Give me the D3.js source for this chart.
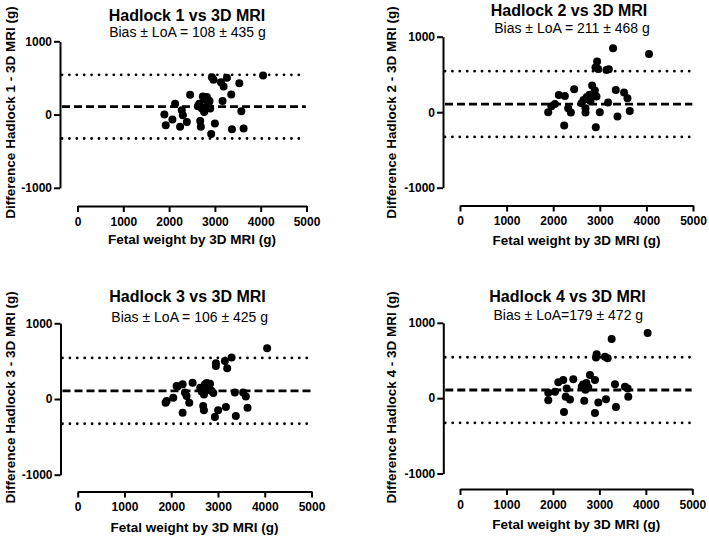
<!DOCTYPE html>
<html><head><meta charset="utf-8">
<script src="https://cdn.jsdelivr.net/npm/d3@7"></script>
<style>
body{margin:0;background:#fff}
svg{display:block}
text{font-family:Arial,"Liberation Sans",sans-serif;fill:#000}
</style>
</head><body>
<svg id="c" width="709" height="538"></svg>
<script>
// ---------- data ----------
const xTicks = [0, 1000, 2000, 3000, 4000, 5000];
const yTicks = [-1000, 0, 1000];
const titles = ["Hadlock 1 vs 3D MRI", "Hadlock 2 vs 3D MRI", "Hadlock 3 vs 3D MRI", "Hadlock 4 vs 3D MRI"];
const subtitles = ["Bias \u00b1 LoA = 108 \u00b1 435 g", "Bias \u00b1 LoA = 211 \u00b1 468 g", "Bias \u00b1 LoA = 106 \u00b1 425 g", "Bias \u00b1 LoA=179 \u00b1 472 g"];
const yTitles = ["Difference Hadlock 1 - 3D MRI (g)", "Difference Hadlock 2 - 3D MRI (g)", "Difference Hadlock 3 - 3D MRI (g)", "Difference Hadlock 4 - 3D MRI (g)"];
const xTitle = "Fetal weight by 3D MRI (g)";
// reference lines as drawn in each panel
const biasLine = [108, 108, 108, 108];
const upperLine = [543, 543, 543, 543];
const lowerLine = [-327, -327, -327, -327];

const h1X = [1897,1927,2072,2131,2240,2277,2300,2387,2459,2628,2657,2679,2693,2716,2737,2766,2773,2810,2825,2861,2882,2898,2919,2935,2970,3000,3132,3167,3190,3263,3357,3372,3533,3577,3627,4052];
const h1Y = [0,-145,-68,149,-168,58,-10,-100,271,113,149,-87,-168,81,248,35,203,103,239,149,185,81,-267,510,475,-122,442,185,384,502,275,-199,429,45,-190,533];

const h2X = [1893,1960,2036,2121,2236,2250,2321,2379,2450,2607,2650,2693,2693,2720,2750,2780,2800,2835,2893,2907,2914,2929,2942,2964,3000,3143,3178,3193,3285,3343,3379,3521,3593,3643,4056];
const h2Y = [0,80,110,229,-177,216,53,-5,305,119,160,53,-5,200,175,230,150,352,286,591,-199,207,670,573,0,560,127,570,848,295,-58,260,185,17,772];

const h3X = [1880,1902,2043,2115,2137,2244,2244,2293,2329,2385,2457,2620,2650,2684,2699,2700,2720,2760,2790,2830,2860,2900,2934,2955,2955,3004,3147,3169,3197,3291,3361,3382,3539,3596,3632,4051];
const h3Y = [-48,-26,18,172,164,194,-180,85,40,-48,216,150,100,-92,-149,60,190,210,120,200,110,80,-238,472,436,-149,502,-106,406,547,85,-225,85,32,-114,670];

const h4X = [1900,1900,2044,2116,2223,2238,2275,2296,2367,2439,2620,2650,2675,2700,2720,2760,2797,2905,2905,2927,2941,2977,3120,3142,3178,3264,3335,3357,3551,3608,3622,4039];
const h4Y = [71,-27,84,210,240,-183,17,129,-17,250,150,180,-36,110,200,140,307,240,-196,538,583,-57,551,-13,530,784,183,-116,151,129,17,864];

const seriesX = [h1X, h2X, h3X, h4X];
const seriesY = [h1Y, h2Y, h3Y, h4Y];

// ---------- layout ----------
const layout = [
  {yAx:60,  yTop:41.3,  yBot:187.8, xAy:206,   x0:77.5, x5:306.5, tX:187,   tY:21,    sX:187.5, sY:37,    ytX:15,    ytY:112.5, xtY:244},
  {yAx:443, yTop:36.7,  yBot:187.7, xAy:205.5, x0:460,  x5:693,   tX:569,   tY:15.7,  sX:572,   sY:33,    ytX:395.5, ytY:112.5, xtY:245},
  {yAx:60.5,yTop:323.3, yBot:474.7, xAy:491.5, x0:77.7, x5:311.5, tX:187.5, tY:302.3, sX:189.7, sY:321.5, ytX:15,    ytY:397.3, xtY:532},
  {yAx:443.3,yTop:322.8,yBot:473.5, xAy:489,   x0:460,  x5:692.3, tX:567.5, tY:301.7, sX:568.3, sY:319.7, ytX:395.5, ytY:397.3, xtY:529}
];

const svg = d3.select("#c");
svg.append("rect").attr("width",709).attr("height",538).attr("fill","#fff");

layout.forEach((L, i) => {
  const g = svg.append("g");
  const x = d3.scaleLinear().domain([0, 5000]).range([L.x0, L.x5]);
  const y = d3.scaleLinear().domain([-1000, 1000]).range([L.yBot, L.yTop]);

  // reference lines
  const lx1 = L.yAx + 2, lx2 = x(4985);
  [upperLine[i], lowerLine[i]].forEach(v => {
    g.append("line").attr("x1", lx1).attr("x2", lx2).attr("y1", y(v)).attr("y2", y(v))
      .attr("stroke","#000").attr("stroke-width",2.8).attr("stroke-linecap","round").attr("stroke-dasharray","0,7.4");
  });
  g.append("line").attr("x1", lx1).attr("x2", lx2).attr("y1", y(biasLine[i])).attr("y2", y(biasLine[i]))
    .attr("stroke","#000").attr("stroke-width",2.8).attr("stroke-dasharray","8,4");

  // points
  g.selectAll("circle.pt").data(seriesX[i].map((d, k) => [d, seriesY[i][k]])).enter()
    .append("circle").attr("class","pt")
    .attr("cx", d => x(d[0])).attr("cy", d => y(d[1])).attr("r", 4).attr("fill","#000");

  // y axis
  const ya = g.append("g").attr("transform", `translate(${L.yAx},0)`)
    .call(d3.axisLeft(y).tickValues(yTicks).tickSize(6).tickSizeOuter(0).tickPadding(2).tickFormat(d => String(d)));
  // x axis
  const xa = g.append("g").attr("transform", `translate(0,${L.xAy})`)
    .call(d3.axisBottom(x).tickValues(xTicks).tickSize(6).tickSizeOuter(0).tickPadding(5).tickFormat(d => String(d)));
  [ya, xa].forEach(a => {
    a.select(".domain").attr("stroke","#000").attr("stroke-width",2);
    a.selectAll(".tick line").attr("stroke","#000").attr("stroke-width",2);
    a.selectAll(".tick text").attr("font-size","12px").attr("font-weight","bold").attr("fill","#000")
      .style("font-family","Arial, 'Liberation Sans', sans-serif");
  });

  // titles
  g.append("text").attr("x", L.tX).attr("y", L.tY).attr("text-anchor","middle")
    .attr("font-size","16px").attr("font-weight","bold").text(titles[i]);
  g.append("text").attr("x", L.sX).attr("y", L.sY).attr("text-anchor","middle")
    .attr("font-size","14px").text(subtitles[i]);
  g.append("text").attr("x", (L.x0 + L.x5) / 2).attr("y", L.xtY).attr("text-anchor","middle")
    .attr("font-size","13.5px").attr("font-weight","bold").text(xTitle);
  g.append("text").attr("transform", `translate(${L.ytX},${L.ytY}) rotate(-90)`).attr("text-anchor","middle")
    .attr("font-size","13.5px").attr("font-weight","bold").text(yTitles[i]);
});
</script>
</body></html>
